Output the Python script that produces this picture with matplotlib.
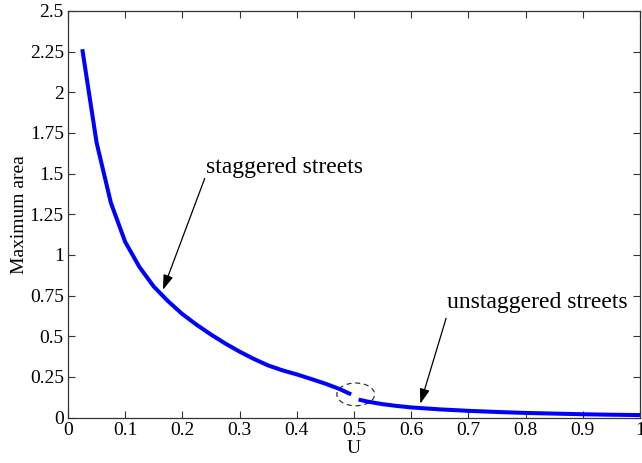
#!/usr/bin/env python3
"""Maximum area vs U, staggered and unstaggered streets."""

import matplotlib
matplotlib.use("Agg")
import matplotlib.pyplot as plt
from matplotlib.patches import Ellipse

plt.rcParams["font.family"] = ["Liberation Serif", "DejaVu Serif"]

# -- data ---------------------------------------------------------------------
u_stag = [0.025, 0.05, 0.075, 0.1, 0.125, 0.15, 0.175, 0.2, 0.225, 0.25,
          0.275, 0.3, 0.325, 0.35, 0.375, 0.4, 0.425, 0.45, 0.475, 0.495]
area_stag = [2.265, 1.69, 1.32, 1.08, 0.925, 0.805, 0.715, 0.636, 0.57, 0.51,
             0.455, 0.405, 0.36, 0.32, 0.29, 0.265, 0.237, 0.208, 0.175, 0.142]

u_unstag = [0.508, 0.525, 0.55, 0.575, 0.6, 0.65, 0.7, 0.75, 0.8, 0.85,
            0.9, 0.95, 1.0]
area_unstag = [0.11, 0.097, 0.082, 0.071, 0.062, 0.05, 0.041, 0.034, 0.028,
               0.024, 0.02, 0.017, 0.015]

xticks = [0, 0.1, 0.2, 0.3, 0.4, 0.5, 0.6, 0.7, 0.8, 0.9, 1]
xticklabels = ["0", "0.1", "0.2", "0.3", "0.4", "0.5", "0.6", "0.7", "0.8",
               "0.9", "1"]
yticks = [0, 0.25, 0.5, 0.75, 1, 1.25, 1.5, 1.75, 2, 2.25, 2.5]
yticklabels = ["0", "0.25", "0.5", "0.75", "1", "1.25", "1.5", "1.75", "2",
               "2.25", "2.5"]

# -- figure -------------------------------------------------------------------
fig = plt.figure(figsize=(6.42, 4.63), dpi=100)
ax = fig.add_axes([68 / 642, 1 - 417.5 / 463, 572 / 642, 406.5 / 463])

ax.plot(u_stag, area_stag, color="#0000ff", lw=2.9, solid_capstyle="butt")
ax.plot(u_unstag, area_unstag, color="#0000ff", lw=2.9, solid_capstyle="butt")

ax.set_xlim(0, 1)
ax.set_ylim(0, 2.5)
ax.set_xticks(xticks)
ax.set_xticklabels(xticklabels)
ax.set_yticks(yticks)
ax.set_yticklabels(yticklabels)
ax.tick_params(direction="in", top=True, right=True, labelsize=14,
               length=5, width=0.8, color="#333333", pad=3)
for s in ax.spines.values():
    s.set_linewidth(0.9)
    s.set_color("#333333")

ax.set_xlabel("U", fontsize=14, labelpad=1)
ax.set_ylabel("Maximum area", fontsize=14, labelpad=1)

# dashed ellipse marking the switch between the two regimes
ax.add_patch(Ellipse((0.503, 0.142), 0.066, 0.14, fill=False,
                     ls=(0, (4, 3)), lw=0.9, ec="#333333"))

arrow = dict(arrowstyle="-|>,head_length=0.9,head_width=0.3",
             color="black", lw=0.9, shrinkA=0, shrinkB=0)
ax.annotate("", xy=(0.166, 0.785), xytext=(0.239, 1.47), arrowprops=arrow)
ax.text(0.241, 1.54, "staggered streets", fontsize=17, va="center", ha="left")

ax.annotate("", xy=(0.616, 0.085), xytext=(0.661, 0.61), arrowprops=arrow)
ax.text(0.663, 0.71, "unstaggered streets", fontsize=17, va="center",
        ha="left")

fig.savefig("out.png", dpi=100)
plt.close(fig)
